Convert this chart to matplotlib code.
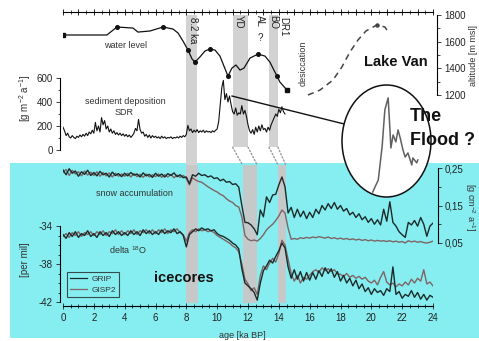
import numpy as np
import matplotlib
matplotlib.use("Agg")
import matplotlib.pyplot as plt
from matplotlib.patches import Rectangle, Ellipse, ConnectionPatch
from matplotlib.ticker import MultipleLocator, FixedLocator

plt.rcParams['font.family'] = ['Liberation Sans', 'DejaVu Sans']
plt.rcParams['axes.unicode_minus'] = False
plt.rcParams['mathtext.default'] = 'regular'

# Lake Van water level [ka BP, m msl]
wl_age = [0, 2.85, 3.5, 4.54, 4.86, 5.64, 6.49, 7.13, 7.46, 7.78, 8.11, 8.37, 8.56, 8.88,
          9.21, 9.53, 9.86, 10.18, 10.44, 10.7, 10.96, 11.22, 11.48, 11.74, 12.13, 12.65,
          13.1, 13.42, 13.68, 13.88, 14.07, 14.53]
wl_alt = [1650, 1650, 1710, 1702, 1672, 1680, 1710, 1695, 1665, 1605, 1537, 1470, 1447, 1485,
          1530, 1545, 1537, 1492, 1417, 1342, 1402, 1425, 1387, 1402, 1477, 1507,
          1492, 1447, 1387, 1342, 1297, 1237]
wl_dot_age = [3.5, 6.49, 8.11, 8.56, 9.53, 10.7, 12.65, 13.88]
wl_dot_alt = [1710, 1710, 1537, 1447, 1545, 1342, 1507, 1342]
wl_end_age = [0, 14.53]
wl_end_alt = [1650, 1237]

# desiccation / refill (dashed)
des_age = [15.89, 16.67, 17.51, 18.09, 18.61, 19.13, 19.65, 20.36, 20.88, 21.01]
des_alt = [1200, 1237, 1312, 1410, 1522, 1612, 1680, 1725, 1710, 1687]

# sediment deposition rate SDR [g m-2 a-1], 0.0 ... 14.4 ka
sdr_age = np.round(np.arange(0, 14.45, 0.1), 1)
sdr = [190, 160, 120, 140, 110, 100, 120, 105, 95, 115,
       105, 125, 110, 130, 115, 140, 120, 150, 135, 165,
       140, 230, 160, 200, 150, 270, 210, 245, 175, 200,
       150, 175, 140, 160, 130, 145, 125, 140, 120, 135,
       115, 130, 110, 125, 105, 120, 140, 180, 160, 255,
       170, 140, 150, 115, 130, 105, 125, 100, 120, 105,
       115, 100, 110, 95, 115, 100, 110, 95, 105, 100,
       110, 95, 105, 100, 110, 100, 115, 105, 120, 110,
       130, 205, 160, 175, 145, 165, 150, 170, 145, 160,
       150, 165, 145, 160, 150, 155, 145, 160, 150, 165,
       175, 240, 380, 520, 580, 420, 470, 400, 450, 380,
       320, 300, 350, 290, 310, 300, 370, 300, 330, 280,
       210, 160, 140, 170, 130, 190, 150, 200, 160, 210,
       170, 180, 150, 190, 165, 210, 240, 270, 300, 280,
       340, 310, 360, 320, 300]

# zoomed flood peak (inset)
flood_age = [10.05, 10.09, 10.15, 10.22, 10.27, 10.33, 10.36, 10.38, 10.42, 10.47,
             10.51, 10.55, 10.6, 10.64, 10.69, 10.76, 10.78, 10.85, 10.87]
flood_sdr = [163, 185, 216, 363, 527, 580, 451, 358, 416, 385,
             438, 402, 349, 318, 336, 283, 314, 292, 305]

# ice cores, 0 ... 24 ka in 0.2 ka steps
ice_age = np.round(np.arange(0, 24.01, 0.2), 1)
grip_acc = [0.245, 0.232, 0.248, 0.236, 0.242, 0.228, 0.240, 0.233, 0.244, 0.230,
            0.238, 0.229, 0.241, 0.232, 0.236, 0.226, 0.239, 0.230, 0.235, 0.227,
            0.236, 0.229, 0.238, 0.231, 0.234, 0.226, 0.237, 0.229, 0.233, 0.225,
            0.236, 0.228, 0.234, 0.226, 0.235, 0.230, 0.237, 0.227, 0.232, 0.224,
            0.226, 0.208, 0.232, 0.228, 0.236, 0.230, 0.232, 0.226, 0.229, 0.222,
            0.224, 0.216, 0.220, 0.212, 0.214, 0.206, 0.208, 0.199, 0.150, 0.105,
            0.104, 0.098, 0.088, 0.072, 0.138, 0.120, 0.173, 0.158, 0.178, 0.180,
            0.205, 0.226, 0.200, 0.130, 0.145, 0.118, 0.140, 0.120, 0.135, 0.115,
            0.132, 0.118, 0.140, 0.128, 0.150, 0.138, 0.155, 0.142, 0.158, 0.140,
            0.150, 0.135, 0.142, 0.125, 0.132, 0.118, 0.128, 0.112, 0.120, 0.105,
            0.115, 0.100, 0.112, 0.098, 0.140, 0.108, 0.160, 0.105, 0.095, 0.080,
            0.072, 0.065, 0.105, 0.098, 0.110, 0.095, 0.118, 0.100, 0.068, 0.095,
            0.103]
gisp2_acc = [0.238, 0.246, 0.230, 0.244, 0.234, 0.240, 0.229, 0.242, 0.231, 0.239,
             0.230, 0.240, 0.228, 0.238, 0.229, 0.237, 0.226, 0.236, 0.228, 0.234,
             0.228, 0.236, 0.226, 0.235, 0.227, 0.233, 0.225, 0.234, 0.226, 0.232,
             0.227, 0.234, 0.225, 0.232, 0.226, 0.233, 0.224, 0.231, 0.225, 0.230,
             0.222, 0.205, 0.224, 0.218, 0.214, 0.212, 0.206, 0.200, 0.195, 0.190,
             0.186, 0.180, 0.176, 0.168, 0.162, 0.158, 0.150, 0.146, 0.120, 0.070,
             0.060, 0.056, 0.058, 0.055, 0.062, 0.072, 0.085, 0.093, 0.100, 0.110,
             0.122, 0.138, 0.130, 0.090, 0.060, 0.062, 0.060, 0.064, 0.062, 0.065,
             0.063, 0.066, 0.064, 0.067, 0.065, 0.063, 0.066, 0.062, 0.064, 0.061,
             0.063, 0.060, 0.062, 0.059, 0.061, 0.058, 0.060, 0.057, 0.059, 0.056,
             0.058, 0.055, 0.057, 0.055, 0.056, 0.054, 0.056, 0.053, 0.055, 0.052,
             0.054, 0.050, 0.056, 0.053, 0.055, 0.052, 0.054, 0.051, 0.050, 0.052,
             0.055]
grip_d18 = [-34.9, -35.3, -34.7, -35.1, -34.6, -35.2, -34.8, -35.0, -34.5, -35.1,
            -34.8, -35.2, -34.6, -35.0, -34.7, -35.1, -34.5, -34.9, -34.6, -35.0,
            -34.7, -35.0, -34.5, -34.9, -34.6, -35.0, -34.4, -34.8, -34.5, -34.9,
            -34.6, -34.9, -34.4, -34.8, -34.5, -34.7, -34.3, -34.8, -34.6, -35.0,
            -36.2, -34.9, -34.6, -34.3, -34.5, -34.2, -34.4, -34.3, -34.5, -34.4,
            -34.8, -35.0, -35.1, -35.3, -35.5, -35.8, -36.0, -36.4, -38.5, -40.0,
            -40.3, -40.6, -41.0, -41.8, -40.0, -38.7, -38.2, -37.6, -37.9, -37.2,
            -36.6, -35.8, -36.3, -38.3, -39.5, -38.6, -39.6, -38.8, -39.8, -38.9,
            -39.7, -38.9, -39.6, -38.7, -39.3, -38.4, -39.0, -38.5, -39.4, -38.8,
            -39.8, -39.2, -40.0, -39.5, -40.3, -39.7, -40.6, -40.1, -40.9, -40.5,
            -41.2, -40.6, -41.0, -40.8, -41.3, -40.6, -40.9, -38.3, -41.2, -40.9,
            -41.6, -41.2, -41.4, -40.8, -41.5, -41.0, -41.7, -41.2, -41.8, -41.3,
            -41.5]
gisp2_d18 = [-35.1, -34.8, -35.2, -34.7, -35.0, -34.6, -35.1, -34.7, -34.9, -34.6,
             -35.0, -34.6, -34.9, -34.5, -35.0, -34.6, -34.8, -34.4, -34.9, -34.5,
             -34.9, -34.5, -34.8, -34.4, -34.9, -34.5, -34.7, -34.4, -34.8, -34.4,
             -34.8, -34.4, -34.7, -34.3, -34.8, -34.4, -34.6, -34.3, -34.7, -34.9,
             -35.6, -34.7, -34.4, -34.6, -34.3, -34.5, -34.4, -34.6, -34.5, -34.7,
             -35.0, -35.2, -35.4, -35.6, -35.8, -36.1, -36.3, -36.7, -38.0, -39.6,
             -40.1, -40.8, -40.5, -41.2, -39.2, -38.2, -38.6, -37.9, -37.4, -37.8,
             -36.9, -35.5, -36.0, -37.5, -39.0, -39.8, -39.2, -40.0, -39.4, -39.6,
             -39.2, -38.8, -38.6, -38.9, -38.4, -38.7, -38.5, -38.8, -38.6, -39.0,
             -39.1, -39.3, -39.0, -39.4, -39.2, -39.5, -39.3, -39.6, -39.4, -39.8,
             -40.0, -39.7, -40.2, -39.4, -38.8, -39.9, -40.2, -40.0, -40.4, -40.1,
             -40.3, -39.9, -40.2, -39.6, -40.0, -39.5, -39.8, -38.6, -40.1, -39.9,
             -40.3]

# event bands: lake record (top) and ice cores (bottom)
band_names = ['8.2 ka', 'YD', 'BO']
band_top = [(8.0, 8.7), (11.0, 12.0), (13.36, 13.94)]
band_ice = [(8.0, 8.75), (11.65, 12.6), (13.95, 14.45)]

W, H = 479, 341
def fx(px):
    return px / W
def fy(py):
    return 1 - py / H

fig = plt.figure(figsize=(W / 100, H / 100), dpi=100)
fig.patch.set_facecolor('white')

cyan = Rectangle((fx(10), fy(338)), fx(479) - fx(10), fy(163) - fy(338),
                 transform=fig.transFigure, facecolor='#86eef0', edgecolor='none', zorder=-1)
fig.add_artist(cyan)

tk = dict(labelsize=7, width=0.6, length=3, pad=2, colors='#222222')
tkm = dict(width=0.5, length=1.8)

# ---- top panel: Lake Van ----
ax_sed = fig.add_axes([fx(63), fy(150), fx(433) - fx(63), fy(12) - fy(150)])
ax_sed.patch.set_alpha(0)
ax_alt = ax_sed.twinx()
ax_sed.set_xlim(0, 24)
ax_sed.set_ylim(0, 1150)
ax_alt.set_ylim(787.5, 1822.5)

for s in ['bottom', 'right']:
    ax_sed.spines[s].set_visible(False)
for s in ['bottom', 'left', 'top']:
    ax_alt.spines[s].set_visible(False)
ax_sed.spines['left'].set_bounds(0, 600)
ax_sed.spines['left'].set_position(('outward', 2.2))
ax_alt.spines['right'].set_bounds(1200, 1800)
ax_alt.spines['right'].set_position(('outward', 3))
for sp in [ax_sed.spines['left'], ax_sed.spines['top'], ax_alt.spines['right']]:
    sp.set_linewidth(0.8)

ax_sed.xaxis.set_ticks_position('top')
ax_sed.xaxis.set_major_locator(MultipleLocator(1))
ax_sed.xaxis.set_minor_locator(MultipleLocator(0.5))
ax_sed.tick_params(axis='x', which='major', direction='inout', length=4, width=0.6,
                   labeltop=False, labelbottom=False)
ax_sed.tick_params(axis='x', which='minor', direction='inout', length=2.5, width=0.5)
ax_sed.set_yticks([0, 200, 400, 600])
ax_sed.yaxis.set_minor_locator(FixedLocator([100, 300, 500]))
ax_sed.tick_params(axis='y', which='major', direction='out', **tk)
ax_sed.tick_params(axis='y', which='minor', direction='out', **tkm)
ax_alt.set_yticks([1200, 1400, 1600, 1800])
ax_alt.yaxis.set_minor_locator(FixedLocator([1300, 1500, 1700]))
ax_alt.tick_params(axis='y', which='major', direction='out', **tk)
ax_alt.tick_params(axis='y', which='minor', direction='out', **tkm)

for i, (a, b) in enumerate(band_top):
    if i == 0:
        ax_sed.axvspan(a, b, ymin=-0.11, ymax=0.978, color='#d2d2d2', lw=0, zorder=0, clip_on=False)
    else:
        ax_sed.axvspan(a, b, ymin=0.02, ymax=0.978, color='#d2d2d2', lw=0, zorder=0)

ax_sed.plot(sdr_age, sdr, color='#111111', lw=0.8, zorder=3)
ax_alt.plot(wl_age, wl_alt, color='#111111', lw=0.9, zorder=3)
ax_alt.plot(wl_dot_age, wl_dot_alt, 'o', color='#111111', ms=2.6, zorder=4)
ax_alt.plot(wl_end_age, wl_end_alt, 's', color='#111111', ms=3.2, zorder=4)
ax_alt.plot(des_age, des_alt, color='#444444', lw=1.1, dashes=(4, 3), zorder=3)
ax_alt.plot([des_age[7]], [des_alt[7]], 'o', color='#444444', ms=2.2, zorder=4)

# ---- bottom panel: ice cores ----
ax_d18 = fig.add_axes([fx(63), fy(306), fx(433) - fx(63), fy(165) - fy(306)])
ax_d18.patch.set_alpha(0)
ax_acc = ax_d18.twinx()
ax_d18.set_xlim(0, 24)
ax_d18.set_ylim(-42.42, -27.58)
ax_acc.set_ylim(-0.118, 0.258)

for s in ['top', 'right']:
    ax_d18.spines[s].set_visible(False)
for s in ['bottom', 'left', 'top']:
    ax_acc.spines[s].set_visible(False)
ax_d18.spines['left'].set_bounds(-42, -34)
ax_d18.spines['left'].set_position(('outward', 2.2))
ax_acc.spines['right'].set_bounds(0.05, 0.25)
ax_acc.spines['right'].set_position(('outward', 3.6))
for sp in [ax_d18.spines['left'], ax_d18.spines['bottom'], ax_acc.spines['right']]:
    sp.set_linewidth(0.8)

ax_d18.xaxis.set_major_locator(MultipleLocator(2))
ax_d18.xaxis.set_minor_locator(MultipleLocator(0.5))
ax_d18.tick_params(axis='x', which='major', direction='inout', labelsize=7, width=0.6,
                   length=4, pad=3, colors='#222222')
ax_d18.tick_params(axis='x', which='minor', direction='inout', length=2.5, width=0.5)
ax_d18.set_yticks([-42, -38, -34])
ax_d18.yaxis.set_minor_locator(FixedLocator([-41, -40, -39, -37, -36, -35]))
ax_d18.tick_params(axis='y', which='major', direction='out', **tk)
ax_d18.tick_params(axis='y', which='minor', direction='out', **tkm)
ax_acc.set_yticks([0.05, 0.15, 0.25])
ax_acc.set_yticklabels(['0,05', '0,15', '0,25'])
ax_acc.yaxis.set_minor_locator(FixedLocator([0.10, 0.20]))
ax_acc.tick_params(axis='y', which='major', direction='out', **tk)
ax_acc.tick_params(axis='y', which='minor', direction='out', **tkm)

for a, b in band_ice:
    ax_d18.axvspan(a, b, ymin=0.02, ymax=1.0, color='#c6c9c9', lw=0, zorder=0)

c_grip = '#1c2a2a'
c_gisp = '#7e6464'
ax_d18.plot(ice_age, gisp2_d18, color=c_gisp, lw=1.0, zorder=2)
ax_d18.plot(ice_age, grip_d18, color=c_grip, lw=1.0, zorder=3)
ax_acc.plot(ice_age, gisp2_acc, color=c_gisp, lw=1.0, zorder=2)
ax_acc.plot(ice_age, grip_acc, color=c_grip, lw=1.0, zorder=3)

h1, = ax_d18.plot([], [], color=c_grip, lw=0.9)
h2, = ax_d18.plot([], [], color=c_gisp, lw=0.9)
leg = ax_d18.legend([h1, h2], ['GRIP', 'GISP2'], loc='upper left',
                    bbox_to_anchor=(fx(67), fy(272)), bbox_transform=fig.transFigure,
                    fontsize=6, frameon=True, fancybox=False, edgecolor='#222222',
                    facecolor='none', framealpha=None, handlelength=2.0, borderpad=0.4,
                    labelspacing=0.3, handletextpad=0.5, borderaxespad=0)
leg.get_frame().set_linewidth(0.8)
for t in leg.get_texts():
    t.set_color('#333333')

# dotted connectors between the shifted bands
for (a, b), (c, d) in zip(band_top[1:], band_ice[1:]):
    for xa, xb in [(a, c), (b, d)]:
        con = ConnectionPatch(xyA=(xa, 0.02), coordsA=ax_sed.get_xaxis_transform(),
                              xyB=(xb, 1.0), coordsB=ax_d18.get_xaxis_transform(),
                              color='#9a9a9a', lw=1.0, ls=(0, (1, 1.5)))
        fig.add_artist(con)

# ---- "The Flood ?" inset ----
ax_in = fig.add_axes([fx(342), fy(197), fx(431) - fx(342), fy(85) - fy(197)])
ax_in.set_axis_off()
ax_in.set_zorder(5)
ax_in.set_xlim(9.49, 11.11)
ax_in.set_ylim(141, 637)
ell = Ellipse((0.5, 0.5), 1, 1, transform=ax_in.transAxes, facecolor='white',
              edgecolor='#111111', lw=1.1, clip_on=False)
ax_in.add_patch(ell)
fl, = ax_in.plot(flood_age, flood_sdr, color='#606060', lw=1.1)
fl.set_clip_path(ell)

con = ConnectionPatch(xyA=(10.95, 450), coordsA=ax_sed.transData,
                      xyB=(0.024, 0.652), coordsB=ax_in.transAxes, color='#111111', lw=1.0)
fig.add_artist(con)

# ---- texts ----
def txt(x, y, s, **kw):
    fig.text(fx(x), fy(y), s, ha=kw.pop('ha', 'center'), va=kw.pop('va', 'center'), **kw)

txt(126, 45, 'water level', fontsize=6.5, color='#333333')
txt(125, 102, 'sediment deposition', fontsize=6.5, color='#333333')
txt(124, 113, 'SDR', fontsize=6.5, color='#333333')
txt(134, 193, 'snow accumulation', fontsize=6.5, color='#333333')
txt(128, 250, r'delta $^{18}$O', fontsize=6.5, color='#333333')
txt(242, 335, 'age [ka BP]', fontsize=6.5, color='#333333')
txt(25, 98, r'[g m$^{-2}$ a$^{-1}$]', fontsize=7, rotation=90, color='#333333')
txt(25, 260, '[per mil]', fontsize=7, rotation=90, color='#333333')
txt(473, 55, 'altitude [m msl]', fontsize=6.5, rotation=90, color='#333333')
txt(470, 207, r'[g cm$^{-2}$ a$^{-1}$]', fontsize=6.5, rotation=-90, color='#333333')

txt(193, 30, '8.2 ka', fontsize=7, rotation=-90, color='#222222')
txt(239, 22, 'YD', fontsize=7, rotation=-90, color='#222222')
txt(260, 21, 'AL', fontsize=7, rotation=-90, color='#222222')
txt(260, 38, '?', fontsize=7, color='#222222')
txt(273, 22, 'BO', fontsize=7, rotation=-90, color='#222222')
txt(283, 27, 'DR1', fontsize=7, rotation=-90, color='#222222')
txt(303, 63, 'desiccation', fontsize=6.5, rotation=90, color='#333333')

txt(396, 62, 'Lake Van', fontsize=10.5, fontweight='bold', color='#111111')
txt(184, 278, 'icecores', fontsize=10.5, fontweight='bold', color='#111111')
txt(410, 117, 'The', fontsize=13, fontweight='bold', ha='left', color='#111111', zorder=7)
txt(410, 140, 'Flood ?', fontsize=13, fontweight='bold', ha='left', color='#111111', zorder=7)

fig.savefig('out.png', dpi=100)
